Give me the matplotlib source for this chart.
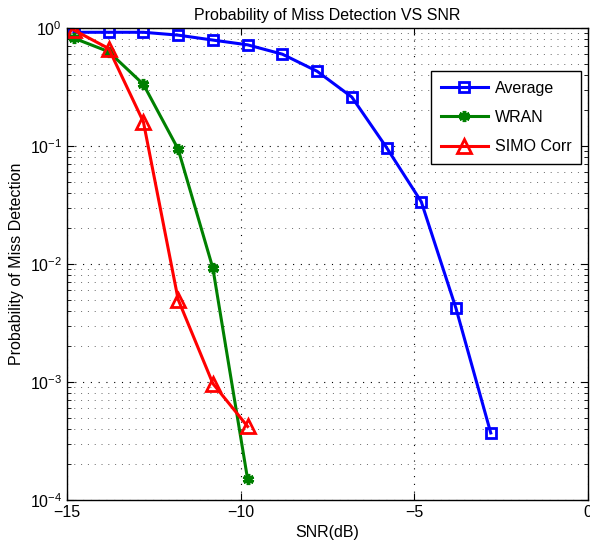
import matplotlib
matplotlib.use("Agg")
import matplotlib.pyplot as plt
import numpy as np
from matplotlib.ticker import LogLocator, NullFormatter, FixedLocator

plt.rcParams['font.family'] = ['Liberation Sans', 'DejaVu Sans']
plt.rcParams['mathtext.fontset'] = 'custom'
plt.rcParams['mathtext.rm'] = 'Liberation Sans'

snr_avg = [-14.8, -13.8, -12.8, -11.8, -10.8, -9.8, -8.8, -7.8, -6.8, -5.8, -4.8, -3.8, -2.8]
pmd_avg = [0.92, 0.92, 0.92, 0.87, 0.79, 0.72, 0.60, 0.43, 0.26, 0.097, 0.0337, 0.0042, 0.00037]

snr_wran = [-14.8, -13.8, -12.8, -11.8, -10.8, -9.8]
pmd_wran = [0.82, 0.63, 0.333, 0.094, 0.0092, 0.00015]

snr_simo = [-14.8, -13.8, -12.8, -11.8, -10.8, -9.8]
pmd_simo = [0.96, 0.67, 0.16, 0.005, 0.00097, 0.00042]

fig = plt.figure(figsize=(5.9, 5.5), dpi=100)
ax = fig.add_axes([67/590, 50/550, 521/590, 472/550])

lw = 2.2
ax.plot(snr_avg, pmd_avg, color='#0000ff', lw=lw, marker='s', ms=6.5,
        mfc='none', mec='#0000ff', mew=2, label='Average')
ax.plot(snr_wran, pmd_wran, color='#008000', lw=lw, marker=(6, 2, 0), ms=8,
        mec='#008000', mew=2.5, label='WRAN')
ax.plot(snr_simo, pmd_simo, color='#ff0000', lw=lw, marker='^', ms=10,
        mfc='none', mec='#ff0000', mew=2, label='SIMO Corr')

ax.set_yscale('log')
ax.set_xlim(-15, 0)
ax.set_ylim(1e-4, 1)
ax.xaxis.set_major_locator(FixedLocator([-15, -10, -5, 0]))
ax.yaxis.set_major_locator(LogLocator(base=10, numticks=10))
ax.yaxis.set_minor_locator(LogLocator(base=10, subs=np.arange(2, 10), numticks=20))
ax.yaxis.set_minor_formatter(NullFormatter())

ax.grid(True, which='major', axis='both', linestyle=(0, (1, 6)), color='black', lw=0.8)
ax.grid(True, which='minor', axis='y', linestyle=(0, (1, 6)), color='#666666', lw=0.7)

ax.tick_params(which='both', direction='in', top=True, right=True, labelsize=11.5)
ax.tick_params(which='major', length=5, width=0.8)
ax.tick_params(which='minor', length=3, width=0.6)
for s in ax.spines.values():
    s.set_linewidth(1.0)

ax.set_title('Probability of Miss Detection VS SNR', fontsize=11.5, pad=6)
ax.set_xlabel('SNR(dB)', fontsize=11.5, labelpad=4)
ax.set_ylabel('Probability of Miss Detection', fontsize=11.5, labelpad=4)

leg = ax.legend(loc='upper right', bbox_to_anchor=(0.9866, 0.909), borderaxespad=0,
                fontsize=11.5, fancybox=False, framealpha=1, edgecolor='black',
                handlelength=3.0, borderpad=0.6, labelspacing=0.9, handletextpad=0.4)
leg.get_frame().set_linewidth(1.0)

fig.savefig('out.png', dpi=100)
